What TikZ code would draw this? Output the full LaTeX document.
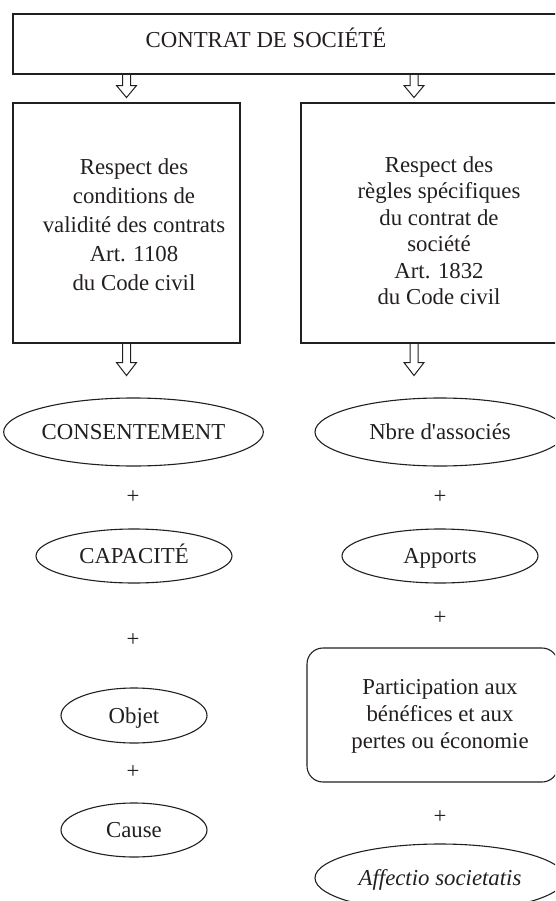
\documentclass[tikz,border=0pt]{standalone}
\usepackage{fontspec}
\setmainfont{Liberation Serif}[Ligatures=TeXOff]
\usetikzlibrary{shapes.geometric,calc}
\definecolor{ink}{RGB}{35,31,32}
% hollow downward arrow: #1 start coordinate, #2 shaft length, #3 head length
\newcommand\hollowdown[3]{%
  \draw[harrow] ($(#1)+(-4,0)$) -- ++(0,#2) -- ++(-6,0) -- ++(10,#3) -- ++(10,-#3) -- ++(-6,0) -- ++(0,-#2);}
\begin{document}
\begin{tikzpicture}[x=1pt,y=-1pt,
  every node/.style={font=\fontsize{22.8}{27}\selectfont, text=ink},
  frame/.style={draw=ink, line width=1.1pt, inner sep=0pt},
  oval/.style={ellipse, draw=ink, line width=1.1pt, inner sep=0pt, text height=15pt, text depth=0pt},
  harrow/.style={draw=ink, line width=1pt, line join=miter},
  plus/.style={inner sep=0pt}]
\useasboundingbox (0,0) rectangle (555,901);
\clip (0,0) rectangle (555,901);

% top box
\node[frame, minimum width=550pt, minimum height=60pt] (top) at (288,44) {};
\node[anchor=base] (toptxt) at (266,48) {CONTRAT DE SOCIÉTÉ};

% two requirement boxes
\node[frame, minimum width=227pt, minimum height=240pt] (lbox) at (126.5,223) {};
\node[align=center, font=\fontsize{22.8}{29}\selectfont] (ltxt) at (134,225.2)
  {Respect des\\conditions de\\validité des contrats\\Art. 1108\\du Code civil};
\node[frame, minimum width=262pt, minimum height=240pt] (rbox) at (432,223) {};
\node[align=center, font=\fontsize{22.8}{26.5}\selectfont] (rtxt) at (439,230.5)
  {Respect des\\règles spécifiques\\du contrat de\\société\\Art. 1832\\du Code civil};

% arrows
\coordinate (a1) at (top.south -| lbox.north);
\coordinate (a2) at ($(top.south -| rbox.north)+(-18,0)$);
\coordinate (a3) at (lbox.south);
\coordinate (a4) at ($(rbox.south)+(-18,0)$);
\hollowdown{a1}{11}{12}
\hollowdown{a2}{11}{12}
\hollowdown{a3}{19}{13}
\hollowdown{a4}{19}{13}

% left column
\node[oval, minimum width=253pt, minimum height=68pt] (cons) at (133.5,432) {CONSENTEMENT};
\node[plus] (p1) at (133,497) {+};
\node[oval, minimum width=196pt, minimum height=54pt] (capa) at (134,556) {CAPACITÉ};
\node[plus] (p4) at (133,640) {+};
\node[oval, minimum width=146pt, minimum height=55pt] (obj) at (134,715.5) {Objet};
\node[plus] (p5) at (133,772) {+};
\node[oval, minimum width=146pt, minimum height=54pt] (cause) at (134,830) {Cause};

% right column
\node[oval, minimum width=250pt, minimum height=68pt] (nbre) at (440,432) {Nbre d'associés};
\node[plus] (p2) at (440,497) {+};
\node[oval, minimum width=196pt, minimum height=54pt] (appo) at (440,556) {Apports};
\node[plus] (p3) at (440,618) {+};
\node[frame, rounded corners=16pt, minimum width=251pt, minimum height=134pt] (part) at (432.5,715) {};
\node[align=center, font=\fontsize{22.8}{27}\selectfont] (parttxt) at (440,716.7)
  {Participation aux\\bénéfices et aux\\pertes ou économie};
\node[plus] (p6) at (440,817) {+};
\node[oval, minimum width=250pt, minimum height=68pt] (aff) at (440,878) {\itshape Affectio societatis};
\end{tikzpicture}
\end{document}
